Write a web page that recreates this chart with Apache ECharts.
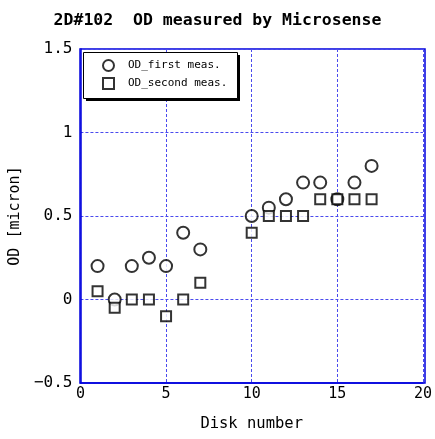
<!DOCTYPE html>
<html><head><meta charset="utf-8">
<script src="https://cdn.jsdelivr.net/npm/echarts@6/dist/echarts.min.js"></script>
<style>html,body{margin:0;padding:0;background:#fff}#c{width:435px;height:439px}</style>
</head><body><div id="c"></div>
<script>
const diskFirst = [1, 2, 3, 4, 5, 6, 7, 10, 11, 12, 13, 14, 15, 16, 17];
const odFirst = [0.2, 0, 0.2, 0.25, 0.2, 0.4, 0.3, 0.5, 0.55, 0.6, 0.7, 0.7, 0.6, 0.7, 0.8];
const diskSecond = [1, 2, 3, 4, 5, 6, 7, 10, 11, 12, 13, 14, 15, 16, 17];
const odSecond = [0.05, -0.05, 0, 0, -0.1, 0, 0.1, 0.4, 0.5, 0.5, 0.5, 0.6, 0.6, 0.6, 0.6];
const yTickLabels = {'-0.5': '\u22120.5', '0': '0', '0.5': '0.5', '1': '1', '1.5': '1.5'};

const FONT = "'DejaVu Sans Mono', monospace";
const chart = echarts.init(document.getElementById('c'), null, {renderer: 'canvas'});
const blue = '#0000dd';
const gridBlue = '#4a4aee';
chart.setOption({
  animation: false,
  backgroundColor: '#fff',
  title: {
    text: '2D#102  OD measured by Microsense',
    left: 'center', top: 7,
    textStyle: {fontFamily: FONT, fontWeight: 'bold', fontSize: 16.5, color: '#000'}
  },
  grid: {left: 80, right: 10, top: 49, bottom: 56},
  graphic: [
    {type: 'rect', silent: true, z: 1, shape: {x: 86, y: 55, width: 154, height: 46}, style: {fill: '#000'}},
    {type: 'rect', silent: true, z: 2, shape: {x: 83.5, y: 52.5, width: 154, height: 46}, style: {fill: '#fff', stroke: '#000', lineWidth: 1}},
    {type: 'rect', silent: true, z: 0, shape: {x: 80, y: 49, width: 345, height: 334}, style: {fill: 'none', stroke: blue, lineWidth: 1.5}}
  ],
  legend: {
    orient: 'vertical', left: 83, top: 52, z: 10,
    padding: [7, 10, 7, 19], itemGap: 5, itemWidth: 11, itemHeight: 11,
    textStyle: {fontFamily: FONT, fontSize: 11, color: '#000', padding: [0, 0, 0, 9]},
    data: [
      {name: 'OD_first meas.', icon: 'emptyCircle'},
      {name: 'OD_second meas.', icon: 'emptyRect'}
    ]
  },
  xAxis: {
    type: 'value', min: 0, max: 20, interval: 5,
    name: 'Disk number', nameLocation: 'middle', nameGap: 33,
    nameTextStyle: {fontFamily: FONT, fontSize: 15.5, color: '#000'},
    axisLine: {show: true, onZero: false, lineStyle: {color: blue, width: 1.5}},
    axisTick: {show: false},
    axisLabel: {fontFamily: FONT, fontSize: 15, color: '#000', margin: 4},
    splitLine: {show: true, lineStyle: {color: gridBlue, type: [3, 2], width: 1}}
  },
  yAxis: {
    type: 'value', min: -0.5, max: 1.5, interval: 0.5,
    name: 'OD [micron]', nameLocation: 'middle', nameGap: 51,
    nameTextStyle: {fontFamily: FONT, fontSize: 15, color: '#000'},
    axisLine: {show: true, onZero: false, lineStyle: {color: blue, width: 1.5}},
    axisTick: {show: false},
    axisLabel: {fontFamily: FONT, fontSize: 16, color: '#000', margin: 8,
      formatter: v => yTickLabels[String(v)] !== undefined ? yTickLabels[String(v)] : String(v)},
    splitLine: {show: true, lineStyle: {color: gridBlue, type: [3, 2], width: 1}}
  },
  series: [
    {
      name: 'OD_first meas.', type: 'scatter', symbol: 'emptyCircle', symbolSize: 12,
      itemStyle: {color: '#000', borderWidth: 1},
      data: diskFirst.map((d, i) => [d, odFirst[i]])
    },
    {
      name: 'OD_second meas.', type: 'scatter', symbol: 'emptyRect', symbolSize: 10,
      itemStyle: {color: '#000', borderWidth: 1},
      data: diskSecond.map((d, i) => [d, odSecond[i]])
    }
  ]
});
</script></body></html>
